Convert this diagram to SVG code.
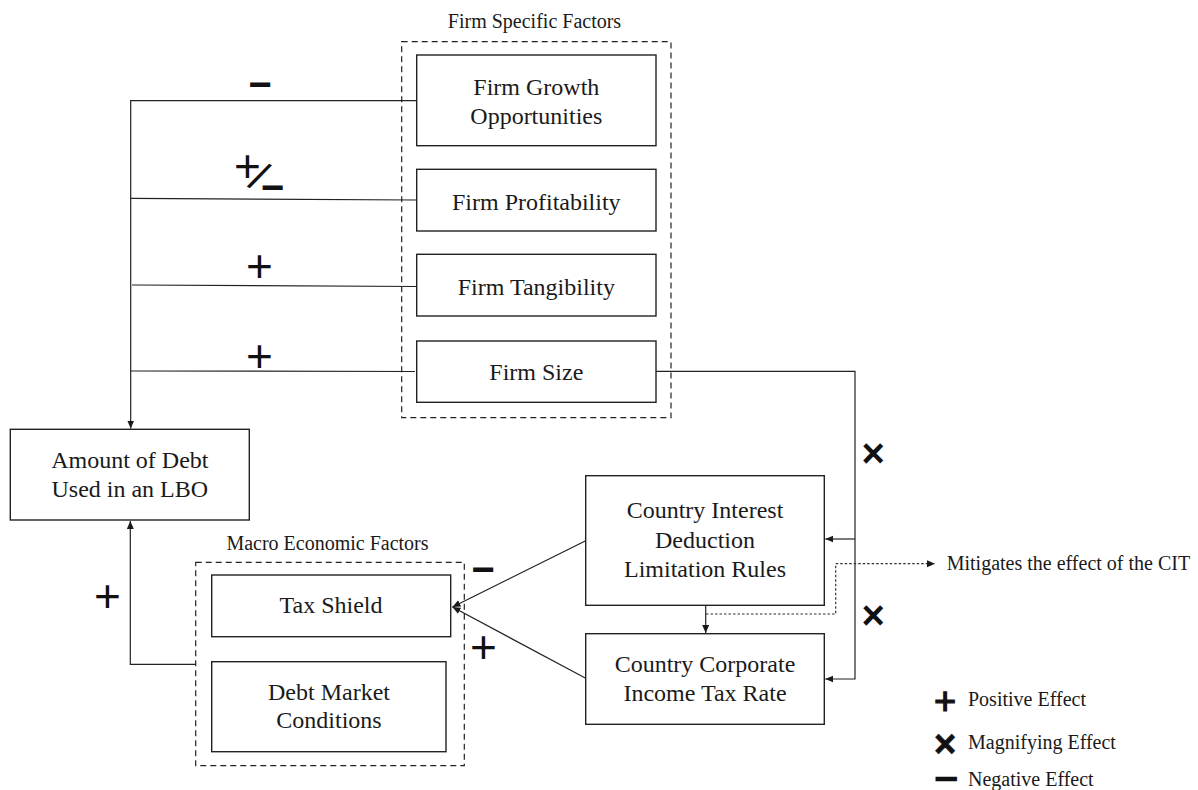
<svg xmlns="http://www.w3.org/2000/svg" width="1198" height="790" viewBox="0 0 1198 790">
<defs>
<marker id="arr" markerUnits="userSpaceOnUse" markerWidth="10" markerHeight="8" refX="8" refY="3.5" orient="auto">
<path d="M0,0 L8,3.5 L0,7 z" fill="#1a1a1a"/>
</marker>
<style>
.box{fill:#fff;stroke:#222;stroke-width:1.4}
.grp{fill:none;stroke:#222;stroke-width:1.2;stroke-dasharray:6 4}
.ln{fill:none;stroke:#222;stroke-width:1.2}
.dot{fill:none;stroke:#333;stroke-width:1.2;stroke-dasharray:2.5 2}
.t{font-family:"Liberation Serif","Times New Roman",serif;font-size:24px;fill:#1a1a1a;text-anchor:middle}
.s{font-family:"Liberation Serif","Times New Roman",serif;font-size:20px;fill:#1a1a1a}
.sm{text-anchor:middle}
.pl{font-family:"Liberation Sans",Arial,sans-serif;font-size:46px;fill:#111;text-anchor:middle}
.mi{font-family:"Liberation Sans",Arial,sans-serif;font-size:40px;font-weight:bold;fill:#111;text-anchor:middle}
</style>
</defs>
<rect width="1198" height="790" fill="#fff"/>

<g id="firm-specific-group">
<rect class="grp" x="401.7" y="41.7" width="269.3" height="376"/>
<text class="s sm" x="534.5" y="28">Firm Specific Factors</text>
</g>
<g id="macro-group">
<rect class="grp" x="195.7" y="562.3" width="268.6" height="203.4"/>
<text class="s sm" x="327.5" y="550">Macro Economic Factors</text>
</g>

<g id="connectors">
<path class="ln" d="M416.7,100.7 H130.7 V428.5" marker-end="url(#arr)"/>
<line class="ln" x1="130.7" y1="198.3" x2="416.7" y2="200"/>
<line class="ln" x1="132" y1="285" x2="416.7" y2="286.5"/>
<line class="ln" x1="130.7" y1="371" x2="415" y2="371.5"/>
<path class="ln" d="M195.7,664.3 H130.3 V521" marker-end="url(#arr)"/>
<path class="ln" d="M656,371.3 H855 V679 H825.3" marker-end="url(#arr)"/>
<line class="ln" x1="855" y1="539" x2="825.3" y2="539" marker-end="url(#arr)"/>
<line class="ln" x1="585.7" y1="540.7" x2="452.5" y2="607" marker-end="url(#arr)"/>
<line class="ln" x1="585.7" y1="678.3" x2="452.5" y2="607" marker-end="url(#arr)"/>
<line class="ln" x1="705.7" y1="605.3" x2="705.7" y2="633" marker-end="url(#arr)"/>
<path class="dot" d="M706,614 H835.7 V563.7 H935" marker-end="url(#arr)"/>
</g>

<g id="signs">
<text class="mi" x="260" y="98">−</text>
<text class="pl" x="247.5" y="181.5">+</text>
<text class="pl" x="259.3" y="191" style="font-size:42px" transform="rotate(29 259.3 176.3)">/</text>
<text class="mi" x="272.5" y="200.5">−</text>
<text class="pl" x="259.5" y="281.5">+</text>
<text class="pl" x="259.5" y="371.5">+</text>
<text class="pl" x="107.5" y="612">+</text>
<text class="mi" x="483" y="583">−</text>
<text class="pl" x="483.5" y="663">+</text>
<text class="mi" x="873.3" y="467">×</text>
<text class="mi" x="873.3" y="629">×</text>
</g>

<g id="firm-growth">
<rect class="box" x="416.7" y="55" width="239.3" height="90.7"/>
<text class="t" x="536.3" y="95">Firm Growth</text>
<text class="t" x="536.3" y="124">Opportunities</text>
</g>
<g id="firm-profitability">
<rect class="box" x="416.7" y="169.3" width="239.3" height="61.7"/>
<text class="t" x="536.3" y="210">Firm Profitability</text>
</g>
<g id="firm-tangibility">
<rect class="box" x="416.7" y="254.3" width="239.3" height="61.7"/>
<text class="t" x="536.3" y="295">Firm Tangibility</text>
</g>
<g id="firm-size">
<rect class="box" x="416.7" y="341" width="239.3" height="61.3"/>
<text class="t" x="536.3" y="380">Firm Size</text>
</g>
<g id="amount-of-debt">
<rect class="box" x="10.3" y="429.3" width="239" height="90.7"/>
<text class="t" x="129.8" y="468.3">Amount of Debt</text>
<text class="t" x="129.8" y="497.3">Used in an LBO</text>
</g>
<g id="tax-shield">
<rect class="box" x="211.7" y="575" width="239" height="61.7"/>
<text class="t" x="331" y="613.3">Tax Shield</text>
</g>
<g id="debt-market">
<rect class="box" x="211.7" y="661.7" width="234.3" height="90"/>
<text class="t" x="329" y="700">Debt Market</text>
<text class="t" x="329" y="728.3">Conditions</text>
</g>
<g id="interest-deduction">
<rect class="box" x="585.7" y="475.7" width="238.6" height="129.6"/>
<text class="t" x="705" y="518.3">Country Interest</text>
<text class="t" x="705" y="548.3">Deduction</text>
<text class="t" x="705" y="577.3">Limitation Rules</text>
</g>
<g id="corporate-tax">
<rect class="box" x="585.7" y="633.7" width="238.6" height="90.6"/>
<text class="t" x="705" y="671.7">Country Corporate</text>
<text class="t" x="705" y="700.7">Income Tax Rate</text>
</g>
<g id="mitigates-note">
<text class="s" x="946.7" y="570">Mitigates the effect of the CIT</text>
</g>
<g id="legend">
<text class="pl" x="945" y="714" style="font-size:38px" stroke="#111" stroke-width="1.2">+</text>
<text class="s" x="968" y="706">Positive Effect</text>
<text class="mi" x="945" y="756.6" style="font-size:38px" stroke="#111" stroke-width="0.8">×</text>
<text class="s" x="968" y="749.3">Magnifying Effect</text>
<text class="mi" x="946" y="785.3" style="font-size:19px" stroke="#111" stroke-width="2.4" textLength="20" lengthAdjust="spacingAndGlyphs">−</text>
<text class="s" x="968" y="785.5">Negative Effect</text>
</g>
</svg>
